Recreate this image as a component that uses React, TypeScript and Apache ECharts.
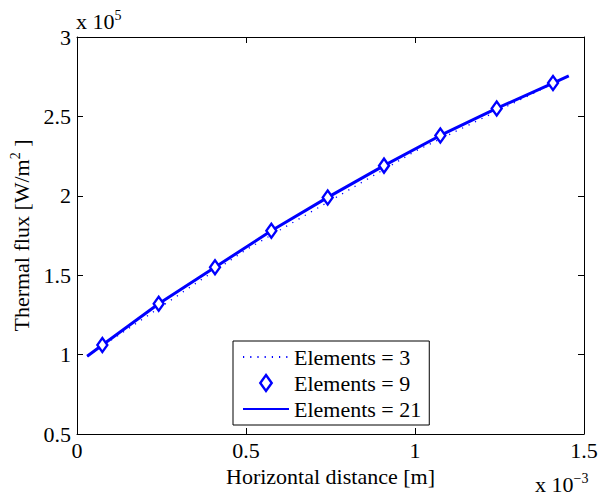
import React, { useEffect, useRef } from "react";
import * as echarts from "echarts";

// x in units of 1e-3 m, y in units of 1e5 W/m^2
const xTicks = [0, 0.5, 1, 1.5];
const yTicks = [0.5, 1, 1.5, 2, 2.5, 3];

const x21 = [0.03, 0.075, 0.2417, 0.4083, 0.575, 0.7417, 0.9083, 1.075, 1.2417, 1.4083, 1.455];
const y21 = [0.99, 1.06, 1.32, 1.55, 1.78, 1.99, 2.19, 2.38, 2.55, 2.71, 2.755];

const x9 = [0.075, 0.2417, 0.4083, 0.575, 0.7417, 0.9083, 1.075, 1.2417, 1.4083];
const y9 = [1.06, 1.32, 1.55, 1.78, 1.99, 2.19, 2.38, 2.55, 2.71];

const x3 = [0.03, 0.5, 1.0, 1.455];
const y3 = [0.99, 1.66, 2.28, 2.755];

const names = ["Elements = 3", "Elements = 9", "Elements = 21"];

const FONT = "'Liberation Serif', 'Times New Roman', serif";
const BLUE = "#0000ff";
const FS = 22;

const zip = (xs: number[], ys: number[]) => xs.map((x, i) => [x, ys[i]]);

export default function App() {
  const ref = useRef<HTMLDivElement>(null);
  useEffect(() => {
    if (!ref.current) return;
    const chart = echarts.init(ref.current, null, { renderer: "svg" });
    const axisCommon = {
      axisLine: { show: true, onZero: false, lineStyle: { color: "#000", width: 1 } },
      axisTick: { show: true, inside: true, length: 6, lineStyle: { color: "#000" } },
      splitLine: { show: false },
    };
    const supRich = {
      sup: { fontFamily: FONT, fontSize: 14, verticalAlign: "top", padding: [0, 0, 12, 0], color: "#000" },
    };
    chart.setOption({
      animation: false,
      backgroundColor: "#fff",
      grid: { left: 77, right: 26, top: 37, bottom: 62, containLabel: false },
      xAxis: [
        {
          type: "value",
          min: xTicks[0],
          max: xTicks[xTicks.length - 1],
          interval: 0.5,
          position: "bottom",
          ...axisCommon,
          axisLabel: { color: "#000", fontFamily: FONT, fontSize: FS, margin: 5 },
          name: "Horizontal distance [m]",
          nameLocation: "middle",
          nameGap: 25,
          nameTextStyle: { color: "#000", fontFamily: FONT, fontSize: FS },
        },
        {
          type: "value",
          min: xTicks[0],
          max: xTicks[xTicks.length - 1],
          interval: 0.5,
          position: "top",
          ...axisCommon,
          axisLabel: { show: false },
        },
      ],
      yAxis: [
        {
          type: "value",
          min: yTicks[0],
          max: yTicks[yTicks.length - 1],
          interval: 0.5,
          position: "left",
          ...axisCommon,
          axisLabel: { color: "#000", fontFamily: FONT, fontSize: FS, margin: 6 },
          name: "Thermal flux [W/m{sup|2} ]",
          nameLocation: "middle",
          nameGap: 38,
          nameTextStyle: { color: "#000", fontFamily: FONT, fontSize: FS, rich: supRich },
        },
        {
          type: "value",
          min: yTicks[0],
          max: yTicks[yTicks.length - 1],
          interval: 0.5,
          position: "right",
          ...axisCommon,
          axisLabel: { show: false },
        },
      ],
      legend: {
        orient: "vertical",
        left: 233,
        top: 341,
        itemWidth: 46,
        itemHeight: 16,
        itemGap: 4,
        padding: [5, 8, 5, 9],
        borderColor: "#000",
        borderWidth: 1,
        borderRadius: 0,
        backgroundColor: "#fff",
        textStyle: { color: "#000", fontFamily: FONT, fontSize: FS },
        data: [
          { name: names[0], itemStyle: { color: "rgba(0,0,0,0)", borderWidth: 0 } },
          {
            name: names[1],
            icon: "path://M5,0L10,7L5,14L0,7Z",
            itemStyle: { color: "#fff", borderColor: BLUE, borderWidth: 2.4 },
          },
          { name: names[2], itemStyle: { color: "rgba(0,0,0,0)", borderWidth: 0 } },
        ],
      },
      graphic: [
        {
          type: "text",
          left: 76,
          top: 8,
          style: {
            text: "x 10{sup|5}",
            fill: "#000",
            font: `${FS}px ${FONT}`,
            rich: supRich,
          },
        },
        {
          type: "text",
          left: 535,
          top: 471,
          style: {
            text: "x 10{sup|−3}",
            fill: "#000",
            font: `${FS}px ${FONT}`,
            rich: supRich,
          },
        },
      ],
      series: [
        {
          name: names[0],
          type: "line",
          data: zip(x3, y3),
          showSymbol: false,
          symbol: "none",
          lineStyle: { color: BLUE, width: 1.3, type: [1.2, 6] },
          itemStyle: { color: BLUE },
          z: 3,
        },
        {
          name: names[2],
          type: "line",
          data: zip(x21, y21),
          showSymbol: false,
          symbol: "none",
          lineStyle: { color: BLUE, width: 3 },
          itemStyle: { color: BLUE },
          z: 2,
        },
        {
          name: names[1],
          type: "line",
          data: zip(x9, y9),
          symbol: "diamond",
          symbolSize: [10, 14],
          showAllSymbol: true,
          lineStyle: { width: 0, opacity: 0 },
          itemStyle: { color: "#fff", borderColor: BLUE, borderWidth: 2.4 },
          z: 4,
        },
      ],
    });
    return () => chart.dispose();
  }, []);
  return (
    <div
      ref={ref}
      style={{ position: "fixed", left: 0, top: 0, width: 610, height: 496 }}
    />
  );
}
